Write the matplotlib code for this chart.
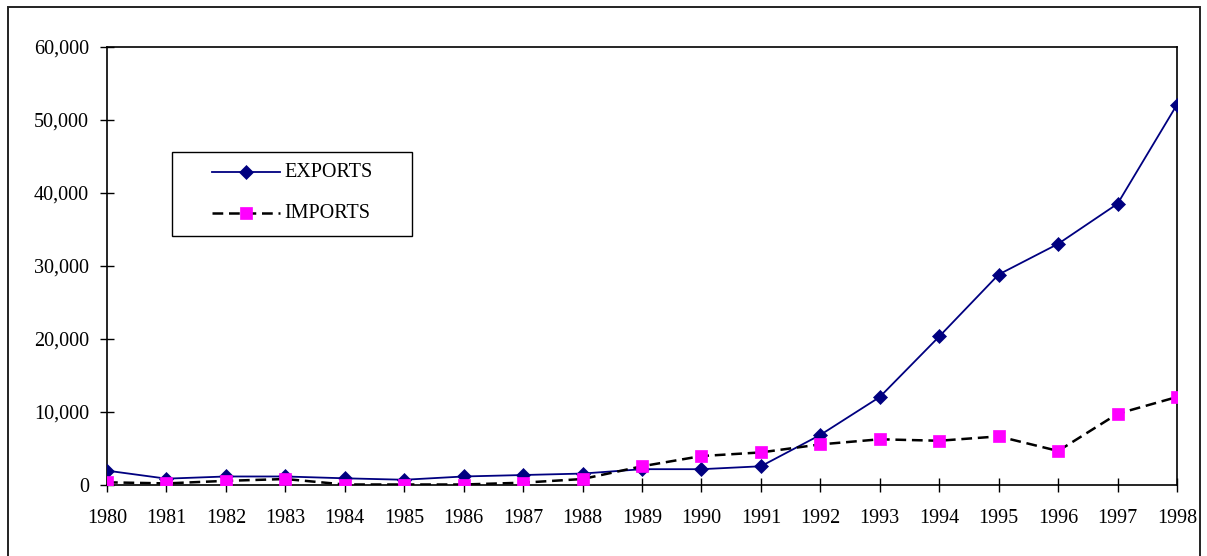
import matplotlib
matplotlib.use("Agg")
import matplotlib.pyplot as plt
from matplotlib.lines import Line2D
from matplotlib.patches import Rectangle
from matplotlib.ticker import FuncFormatter

years = list(range(1980, 1999))
exports = [1900, 800, 1100, 1100, 850, 650, 1100, 1300, 1500, 2100, 2100, 2500,
           6800, 12000, 20300, 28800, 33000, 38500, 52100]
imports = [300, 150, 500, 750, 0, 0, 0, 250, 750, 2500, 3900, 4400,
           5500, 6200, 6000, 6600, 4600, 9700, 12000]
series_labels = ["EXPORTS", "IMPORTS"]

W, H = 1207, 556
FS = 14.5
plt.rcParams["font.family"] = ["Liberation Serif", "DejaVu Serif"]
plt.rcParams["font.size"] = FS

fig = plt.figure(figsize=(W / 100, H / 100), dpi=100)
ax = fig.add_axes([107 / W, 71.5 / H, (1177 - 107) / W, (484.5 - 47) / H])

exp_style = dict(color="#000080", lw=1.3, marker="D", ms=7.5,
                 mfc="#000080", mec="#000080", mew=0.5)
imp_style = dict(color="black", lw=1.8, ls=(0, (4.3, 2.3)), marker="s", ms=8.5,
                 mfc="#FF00FF", mec="#FF00FF", mew=0.5)

ax.plot(years, exports, zorder=3, **exp_style)
ax.plot(years, imports, zorder=4, **imp_style)

ax.set_xlim(years[0], years[-1])
ax.set_ylim(0, 60000)
ax.set_xticks(years)
ax.set_yticks(range(0, 60001, 10000))
ax.yaxis.set_major_formatter(FuncFormatter(lambda v, p: f"{int(v):,}"))
ax.tick_params(direction="inout", length=10, width=1.0, colors="black",
               labelsize=FS)
ax.tick_params(axis="y", pad=8)
ax.tick_params(axis="x", pad=12.5)
for s in ax.spines.values():
    s.set_linewidth(1.2)
    s.set_color("black")
for lbl in ax.get_xticklabels() + ax.get_yticklabels():
    lbl.set_clip_on(False)

# legend box drawn in figure pixel space
def fx(px):
    return px / W

def fy(py):
    return 1 - py / H

fig.add_artist(Rectangle((fx(172), fy(236)), fx(412) - fx(172), fy(152) - fy(236),
                         transform=fig.transFigure, fill=True, facecolor="white",
                         edgecolor="black", lw=1.0, zorder=5))
rows = [(172, exp_style, series_labels[0]), (213, imp_style, series_labels[1])]
for ypx, style, text in rows:
    st = dict(style)
    fig.add_artist(Line2D([fx(212), fx(280)], [fy(ypx), fy(ypx)],
                          transform=fig.transFigure, color=st["color"], lw=st["lw"],
                          ls=st.get("ls", "-"), zorder=6))
    fig.add_artist(Line2D([fx(246)], [fy(ypx)], transform=fig.transFigure,
                          marker=st["marker"], ms=st["ms"], mfc=st["mfc"],
                          mec=st["mec"], mew=st["mew"], ls="none", zorder=7))
    fig.text(fx(284), fy(ypx), text, ha="left", va="center", fontsize=FS, zorder=7)

# outer chart frame
fig.add_artist(Rectangle((fx(8), -0.05), fx(1200) - fx(8), fy(7) + 0.05,
                         transform=fig.transFigure, fill=False,
                         edgecolor="#222222", lw=1.4, zorder=10))

fig.savefig("out.png", dpi=100)
